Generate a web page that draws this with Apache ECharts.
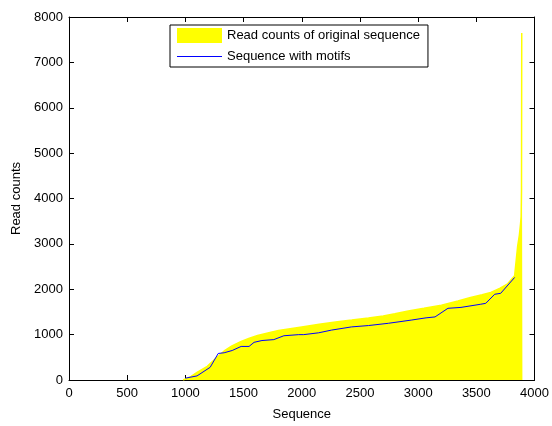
<!DOCTYPE html>
<html>
<head>
<meta charset="utf-8">
<script src="https://cdn.jsdelivr.net/npm/echarts@6/dist/echarts.min.js"></script>
<style>
html,body{margin:0;padding:0;background:#fff;overflow:hidden;}
#chart{width:100vw;height:100vh;}
</style>
</head>
<body>
<div id="chart"></div>
<script>
// Read counts of original sequence (area): x positions and values
const areaX = [980, 1050, 1100, 1188, 1250, 1333, 1400, 1479, 1550, 1620, 1718, 1800, 1900, 2000, 2150, 2290, 2430, 2573, 2700, 2800, 2915, 3050, 3200, 3342, 3450, 3550, 3624, 3700, 3769, 3829, 3855, 3870, 3880, 3885, 3888, 3890, 3896];
const areaY = [0, 80, 170, 300, 450, 640, 750, 850, 920, 980, 1040, 1090, 1130, 1170, 1230, 1280, 1320, 1365, 1410, 1460, 1520, 1580, 1650, 1740, 1820, 1880, 1930, 2020, 2120, 2300, 2950, 3200, 3450, 3600, 4200, 7650, 7650];
// Sequence with motifs (line)
const motifX = [1000, 1100, 1213, 1282, 1333, 1402, 1479, 1547, 1590, 1658, 1760, 1846, 1974, 2017, 2145, 2256, 2427, 2573, 2744, 2940, 3068, 3145, 3256, 3368, 3538, 3581, 3658, 3709, 3829];
const motifY = [40, 90, 280, 585, 600, 650, 740, 740, 830, 870, 890, 975, 1000, 1000, 1040, 1100, 1170, 1200, 1250, 1320, 1370, 1390, 1580, 1600, 1670, 1690, 1890, 1910, 2260];
const xTicks = [0, 500, 1000, 1500, 2000, 2500, 3000, 3500, 4000];
const yTicks = [0, 1000, 2000, 3000, 4000, 5000, 6000, 7000, 8000];

const areaName = 'Read counts of original sequence';
const motifName = 'Sequence with motifs';
const font = 'Liberation Sans, Arial, Helvetica, sans-serif';
const plain = v => String(v);

const chart = echarts.init(document.getElementById('chart'), null, {renderer: 'canvas'});
const axisCommon = {
  type: 'value',
  axisLine: {show: true, onZero: false, lineStyle: {color: '#000', width: 1}},
  axisTick: {show: true, inside: true, length: 5, lineStyle: {color: '#000', width: 1}},
  splitLine: {show: false},
  axisLabel: {color: '#000', fontSize: 13, fontFamily: font, formatter: plain}
};
chart.setOption({
  animation: false,
  backgroundColor: '#fff',
  grid: {left: 69, right: 14, top: 17, bottom: 40, containLabel: false},
  legend: {
    orient: 'vertical',
    left: 170, top: 25,
    padding: [3, 8, 4, 7],
    itemWidth: 45, itemHeight: 15, itemGap: 7,
    borderColor: '#000', borderWidth: 1,
    backgroundColor: '#fff',
    textStyle: {color: '#000', fontSize: 13, fontFamily: font, padding: [0, 0, 0, 0]},
    itemStyle: {borderWidth: 0},
    data: [
      {name: areaName, icon: 'rect'},
      {name: motifName, icon: 'path://M0,0H45V1H0Z'}
    ]
  },
  xAxis: [
    Object.assign({}, axisCommon, {
      min: xTicks[0], max: xTicks[xTicks.length - 1], interval: 500,
      position: 'bottom',
      name: 'Sequence', nameLocation: 'middle', nameGap: 28,
      nameTextStyle: {color: '#000', fontSize: 13, fontFamily: font},
      axisLabel: {color: '#000', fontSize: 13, fontFamily: font, margin: 7, formatter: plain}
    }),
    Object.assign({}, axisCommon, {
      min: xTicks[0], max: xTicks[xTicks.length - 1], interval: 500,
      position: 'top', axisLabel: {show: false}
    })
  ],
  yAxis: [
    Object.assign({}, axisCommon, {
      min: yTicks[0], max: yTicks[yTicks.length - 1], interval: 1000,
      position: 'left',
      name: 'Read counts', nameLocation: 'middle', nameGap: 44,
      nameTextStyle: {color: '#000', fontSize: 13, fontFamily: font},
      axisLabel: {color: '#000', fontSize: 13, fontFamily: font, margin: 6, formatter: plain}
    }),
    Object.assign({}, axisCommon, {
      min: yTicks[0], max: yTicks[yTicks.length - 1], interval: 1000,
      position: 'right', axisLabel: {show: false}
    })
  ],
  series: [
    {
      name: areaName,
      type: 'line',
      xAxisIndex: 0, yAxisIndex: 0,
      data: areaX.map((x, i) => [x, areaY[i]]),
      symbol: 'none',
      color: '#ffff00',
      itemStyle: {color: '#ffff00'},
      lineStyle: {color: '#ffff00', width: 1.5},
      areaStyle: {color: '#ffff00', opacity: 1},
      z: 1
    },
    {
      name: motifName,
      type: 'line',
      xAxisIndex: 0, yAxisIndex: 0,
      data: motifX.map((x, i) => [x, motifY[i]]),
      symbol: 'none',
      color: '#0000ff',
      itemStyle: {color: '#0000ff'},
      lineStyle: {color: '#0000ff', width: 1},
      z: 2
    }
  ]
});
</script>
</body>
</html>
